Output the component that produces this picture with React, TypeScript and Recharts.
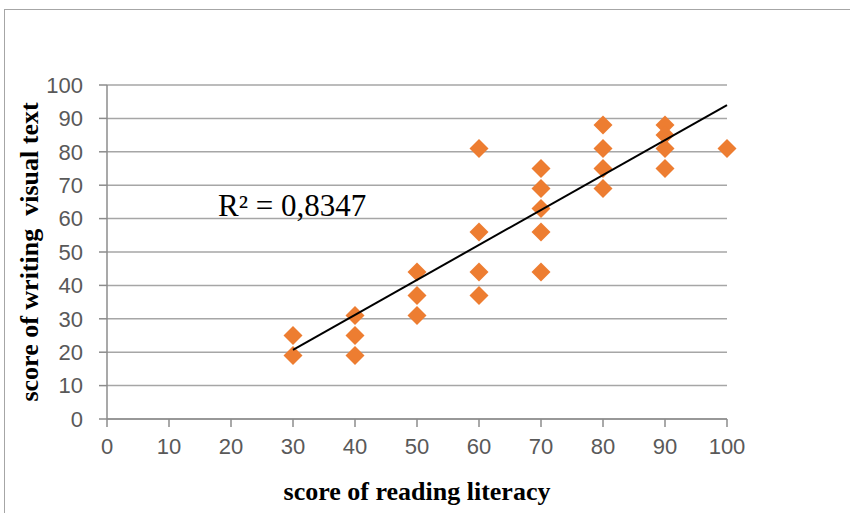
import React from 'react';
import {
  ScatterChart, Scatter, XAxis, YAxis, CartesianGrid
} from 'recharts';

// score of reading literacy (x) and score of writing visual text (y)
const readingScores = [30, 30, 40, 40, 40, 50, 50, 50, 60, 60, 60, 60, 70, 70, 70, 70, 70, 80, 80, 80, 80, 90, 90, 90, 90, 100];
const writingScores = [25, 19, 31, 25, 19, 44, 37, 31, 81, 56, 44, 37, 75, 69, 63, 56, 44, 88, 81, 75, 69, 88, 85, 81, 75, 81];

// linear trend line end points
const trendX = [30, 100];
const trendY = [20.7, 94];

const ticks = [0, 10, 20, 30, 40, 50, 60, 70, 80, 90, 100];

const points = readingScores.map((x, i) => ({ x, y: writingScores[i] }));
const trend = trendX.map((x, i) => ({ x, y: trendY[i] }));

const ORANGE = '#ED7D31';
const TICK_FONT = { fontFamily: 'Liberation Sans, Arial, sans-serif', fontSize: 22, fill: '#595959' };
const TITLE_FONT = { fontFamily: 'Liberation Serif, Times New Roman, serif', fontSize: 26, fontWeight: 700, fill: '#000' };

const Diamond = (props: any) => {
  const { cx, cy } = props;
  if (cx == null || cy == null) return null;
  const r = 9.5;
  return (
    <polygon
      points={`${cx},${cy - r} ${cx + r},${cy} ${cx},${cy + r} ${cx - r},${cy}`}
      fill={ORANGE}
    />
  );
};

const NoDot = () => <g />;

export default function App() {
  return (
    <div style={{ position: 'absolute', left: 0, top: 0, width: 850, height: 513, background: '#fff' }}>
      <div
        style={{
          position: 'absolute', left: 4, top: 9, right: 0, bottom: 0,
          borderTop: '1.5px solid #A6A6A6', borderLeft: '1.5px solid #A6A6A6'
        }}
      />
      <ScatterChart
        width={850}
        height={513}
        margin={{ top: 85, right: 123, left: 0, bottom: 0 }}
        style={{ position: 'absolute', left: 0, top: 0 }}
      >
        <CartesianGrid vertical={false} stroke="#A6A6A6" strokeWidth={1.5} />
        <XAxis
          type="number"
          dataKey="x"
          domain={[0, 100]}
          ticks={ticks}
          interval={0}
          height={94}
          tick={TICK_FONT}
          tickSize={8}
          tickMargin={11}
          stroke="#8C8C8C"
          strokeWidth={1.5}
          label={{ value: 'score of reading literacy', position: 'insideBottom', offset: 13, style: TITLE_FONT }}
        />
        <YAxis
          type="number"
          dataKey="y"
          domain={[0, 100]}
          ticks={ticks}
          interval={0}
          width={107}
          tick={TICK_FONT}
          tickSize={8}
          tickMargin={16}
          stroke="#8C8C8C"
          strokeWidth={1.5}
          label={{
            value: 'score of writing\u00A0 visual text',
            angle: -90,
            position: 'insideLeft',
            offset: 29,
            style: { ...TITLE_FONT, textAnchor: 'middle' }
          }}
        />
        <Scatter data={points} shape={Diamond} isAnimationActive={false} />
        <Scatter
          data={trend}
          line={{ stroke: '#000', strokeWidth: 2 }}
          shape={NoDot}
          isAnimationActive={false}
        />
      </ScatterChart>
      <svg width={850} height={513} style={{ position: 'absolute', left: 0, top: 0, pointerEvents: 'none' }}>
        <text x={218} y={216} fontFamily="Liberation Serif, Times New Roman, serif" fontSize={31} fill="#000">
          R² = 0,8347
        </text>
      </svg>
    </div>
  );
}
